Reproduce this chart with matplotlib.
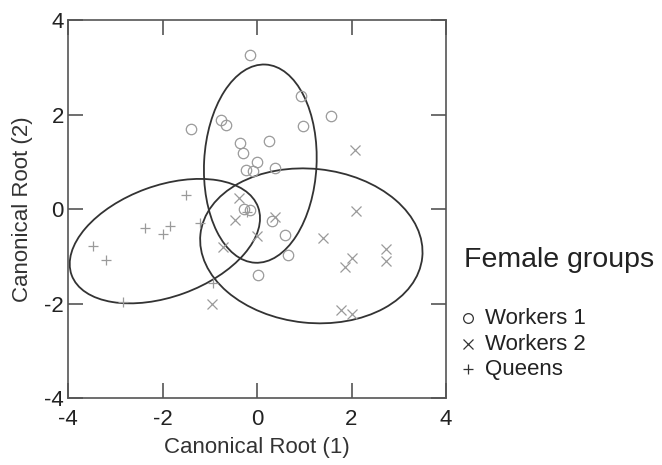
import matplotlib
matplotlib.use("Agg")
import matplotlib.pyplot as plt
from matplotlib.patches import Ellipse

plt.rcParams['font.family'] = ['Liberation Sans', 'DejaVu Sans']
plt.rcParams['axes.unicode_minus'] = False

# Workers 1 (circles)
w1_x = [-0.14, 0.94, 1.57, -0.76, -0.65, -1.40, 0.97, -0.37, 0.25, -0.29,
        0.0, 0.38, -0.24, -0.09, -0.27, -0.15, 0.31, 0.60, 0.66, 0.03]
w1_y = [3.26, 2.39, 1.96, 1.89, 1.78, 1.69, 1.76, 1.40, 1.43, 1.19,
        1.0, 0.87, 0.83, 0.80, -0.01, -0.02, -0.25, -0.54, -0.97, -1.40]

# Workers 2 (crosses)
w2_x = [2.07, -0.38, 2.09, 0.39, -0.47, -0.01, 1.40, -0.72, 2.74, 2.0,
        2.73, 1.86, -0.95, 1.78, 2.0]
w2_y = [1.25, 0.23, -0.04, -0.16, -0.24, -0.57, -0.61, -0.80, -0.85, -1.03,
        -1.09, -1.23, -2.01, -2.14, -2.22]

# Queens (plus)
q_x = [-1.51, -2.38, -1.84, -1.98, -1.21, -0.22, -3.47, -3.19, -0.94, -2.84]
q_y = [0.30, -0.40, -0.35, -0.53, -0.29, -0.07, -0.78, -1.08, -1.57, -1.97]

# confidence ellipses: center x, center y, width, height, angle
ell_cx = [0.07, 1.15, -1.95]
ell_cy = [0.96, -0.78, -0.68]
ell_w = [2.38, 4.72, 4.20]
ell_h = [4.20, 3.26, 2.35]
ell_ang = [-3, -6, 20]

pt_col = '#9a9a9a'
txt_col = '#222222'

fig = plt.figure(figsize=(6.62, 4.65), dpi=100)
ax = fig.add_axes([68/662, 67/465, 378/662, 378/465])

ax.plot(w1_x, w1_y, 'o', ms=7.5, mfc='none', mec=pt_col, mew=0.9)
ax.plot(w2_x, w2_y, 'x', ms=7.5, color=pt_col, mew=0.9)
ax.plot(q_x, q_y, '+', ms=7.5, color=pt_col, mew=0.9)

for cx, cy, w, h, a in zip(ell_cx, ell_cy, ell_w, ell_h, ell_ang):
    ax.add_patch(Ellipse((cx, cy), w, h, angle=a, fill=False,
                         ec='#333333', lw=1.3))

ax.set_xlim(-4, 4)
ax.set_ylim(-4, 4)
ax.set_xticks([-4, -2, 0, 2, 4])
ax.set_yticks([-4, -2, 0, 2, 4])
ax.tick_params(direction='in', length=11, width=1.2, color='#555555',
               top=True, right=True, labelsize=16, labelcolor=txt_col)
ax.tick_params(axis='x', pad=8)
ax.tick_params(axis='y', pad=3)
for s in ax.spines.values():
    s.set_color('#555555')
    s.set_linewidth(1.2)

ax.set_xlabel('Canonical Root (1)', fontsize=16, color='#333333', labelpad=5)
ax.set_ylabel('Canonical Root (2)', fontsize=16, color='#333333', labelpad=8)

# legend drawn as plain text
fig.text(464/662, 1 - 260/465, 'Female groups', fontsize=20.5, color=txt_col,
         va='center', ha='left')
leg_labels = ['Workers 1', 'Workers 2', 'Queens']
leg_marks = ['o', 'x', '+']
leg_y = [318, 344, 369]
for lab, mk, yy in zip(leg_labels, leg_marks, leg_y):
    fy = 1 - yy / 465
    if mk == 'o':
        fig.lines.append(plt.Line2D([468/662], [fy], marker=mk, ms=7, mfc='none',
                                    mec='#333333', mew=0.9, transform=fig.transFigure))
    else:
        fig.lines.append(plt.Line2D([468/662], [fy], marker=mk, ms=7.5, color='#333333',
                                    mew=0.9, transform=fig.transFigure))
    fig.text(485/662, fy, lab, fontsize=16, color=txt_col, va='center', ha='left')

fig.savefig('out.png', dpi=100)
